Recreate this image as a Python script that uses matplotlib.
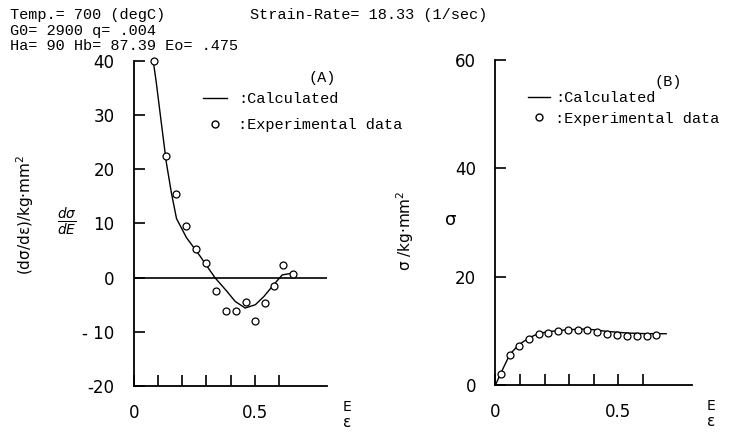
import numpy as np
import matplotlib
matplotlib.use("Agg")
import matplotlib.pyplot as plt
from matplotlib.lines import Line2D

# header parameters
header_left = ["Temp.= 700 (degC)", "G0= 2900 q= .004", "Ha= 90 Hb= 87.39 Eo= .475"]
header_right = "Strain-Rate= 18.33 (1/sec)"

# (A) work-hardening rate d(sigma)/d(eps)
a_calc_x = [0.078, 0.092, 0.113, 0.134, 0.155, 0.176, 0.217, 0.273, 0.335,
            0.384, 0.419, 0.460, 0.502, 0.537, 0.578, 0.613, 0.638, 0.662]
a_calc_y = [40.5, 36.1, 28.6, 21.2, 15.6, 10.9, 7.4, 4.0, 0.0,
            -2.5, -4.4, -5.6, -5.0, -3.5, -1.3, 0.5, 0.7, 0.9]
a_exp_x = [0.081, 0.131, 0.173, 0.215, 0.256, 0.298, 0.340, 0.381, 0.420,
           0.462, 0.502, 0.541, 0.578, 0.617, 0.659]
a_exp_y = [40.0, 22.4, 15.4, 9.6, 5.2, 2.7, -2.4, -6.1, -6.1,
           -4.5, -8.0, -4.7, -1.5, 2.3, 0.7]

# (B) flow stress sigma
b_calc_x = [0.0, 0.021, 0.059, 0.097, 0.141, 0.176, 0.216, 0.291, 0.372,
            0.454, 0.536, 0.617, 0.696]
b_calc_y = [0.0, 2.1, 5.7, 7.5, 8.8, 9.5, 9.85, 10.2, 10.35,
            9.9, 9.6, 9.47, 9.47]
b_exp_x = [0.021, 0.059, 0.097, 0.138, 0.176, 0.216, 0.256, 0.295, 0.336,
           0.375, 0.416, 0.456, 0.497, 0.537, 0.576, 0.616, 0.655]
b_exp_y = [2.1, 5.5, 7.2, 8.5, 9.35, 9.67, 9.9, 10.15, 10.15,
           10.15, 9.7, 9.47, 9.3, 9.1, 9.1, 9.1, 9.15]

x_ticks = [0, 0.1, 0.2, 0.3, 0.4, 0.5, 0.6]
x_ticklabels = ["0", "", "", "", "", "0.5", ""]
legend_labels = [":Calculated", ":Experimental data"]

mono = "Liberation Mono"
num_font = "DejaVu Sans"

fig = plt.figure(figsize=(7.31, 4.32), dpi=100)
axA = fig.add_axes([0.1833, 0.1065, 0.2645, 0.7523])
axB = fig.add_axes([0.6778, 0.1088, 0.2684, 0.7523])


def style_axis(ax, ylim, yticks, yticklabels):
    ax.set_xlim(0, 0.8)
    ax.set_ylim(*ylim)
    ax.spines["top"].set_visible(False)
    ax.spines["right"].set_visible(False)
    for s in ("left", "bottom"):
        ax.spines[s].set_linewidth(1.3)
    ax.set_xticks(x_ticks)
    ax.set_xticklabels(x_ticklabels, fontfamily=num_font, fontsize=12)
    ax.set_yticks(yticks)
    ax.set_yticklabels(yticklabels, fontfamily=num_font, fontsize=12)
    ax.tick_params(axis="x", direction="in", length=8, width=1.2, pad=13)
    ax.tick_params(axis="y", direction="in", length=8, width=1.2, pad=14)
    ax.text(1.10, -0.066, "E", transform=ax.transAxes, fontsize=10,
            fontfamily=num_font, ha="center", va="center")
    ax.text(1.10, -0.112, "ε", transform=ax.transAxes, fontsize=11,
            ha="center", va="center")


handles = [Line2D([], [], color="black", lw=1.0),
           Line2D([], [], ls="none", marker="o", mfc="white", mec="black", ms=5)]

# panel A
axA.axhline(0, xmin=0, xmax=1, color="black", lw=1.2)
axA.plot(a_calc_x, a_calc_y, color="black", lw=1.0)
axA.plot(a_exp_x, a_exp_y, "o", mfc="white", mec="black", ms=5, mew=0.9, clip_on=False)
style_axis(axA, (-20, 40), [-20, -10, 0, 10, 20, 30, 40],
           ["-20", "- 10", "0", "10", "20", "30", "40"])
axA.text(0.974, 0.948, "(A)", transform=axA.transAxes, fontfamily=mono,
         fontsize=11, ha="center", va="center")
axA.legend(handles, legend_labels, loc="upper left",
           bbox_to_anchor=(0.357, 0.905), frameon=False, borderpad=0,
           borderaxespad=0, handlelength=1.6, handletextpad=0.7,
           labelspacing=0.8, prop={"family": mono, "size": 11})
fig.text(0.034, 0.502, "(dσ/dε)/kg·mm$^2$", rotation=90, fontsize=11,
         fontfamily=num_font, ha="center", va="center")
fig.text(0.092, 0.487, r"$\frac{d\sigma}{dE}$", fontsize=14, ha="center", va="center")

# panel B
axB.plot(b_calc_x, b_calc_y, color="black", lw=1.0)
axB.plot(b_exp_x, b_exp_y, "o", mfc="white", mec="black", ms=5, mew=0.9)
style_axis(axB, (0, 60), [0, 20, 40, 60], ["0", "20", "40", "60"])
axB.text(0.88, 0.932, "(B)", transform=axB.transAxes, fontfamily=mono,
         fontsize=11, ha="center", va="center")
axB.legend(handles, legend_labels, loc="upper left",
           bbox_to_anchor=(0.166, 0.905), frameon=False, borderpad=0,
           borderaxespad=0, handlelength=1.45, handletextpad=0.3,
           labelspacing=0.45, prop={"family": mono, "size": 11})
fig.text(0.554, 0.465, "σ /kg·mm$^2$", rotation=90, fontsize=11,
         fontfamily=num_font, ha="center", va="center")
fig.text(0.616, 0.49, "σ", fontsize=13, ha="center", va="center")

# header
header_y = [0.955, 0.919, 0.884]
for y, line in zip(header_y, header_left):
    fig.text(0.0137, y, line, fontfamily=mono, fontsize=11,
             ha="left", va="baseline")
fig.text(0.342, header_y[0], header_right, fontfamily=mono, fontsize=11,
         ha="left", va="baseline")

fig.savefig("out.png", dpi=100)
